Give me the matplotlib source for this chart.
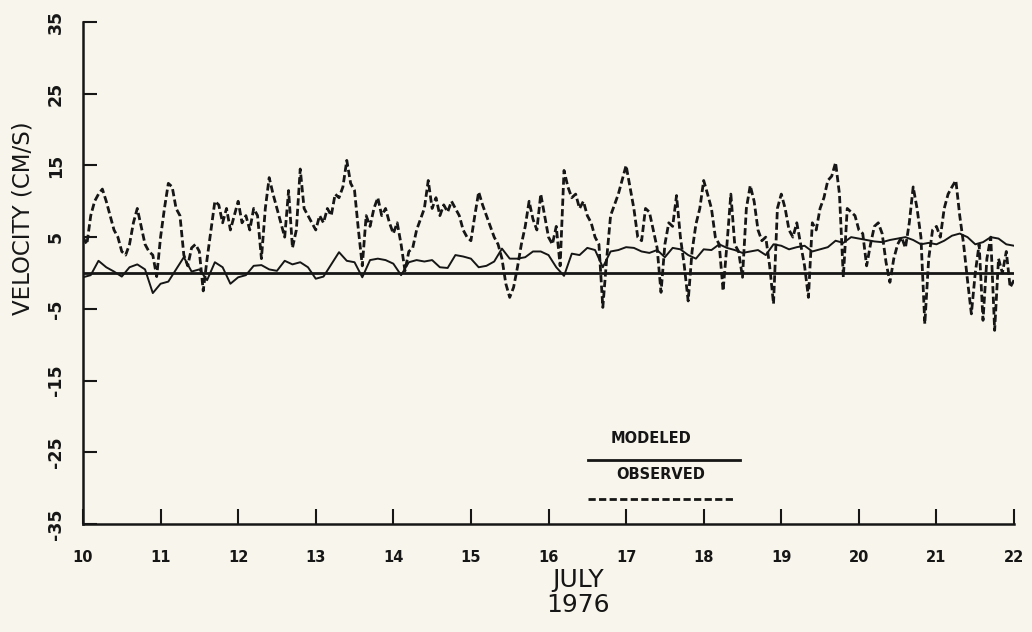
import numpy as np
import matplotlib
matplotlib.use("Agg")
import matplotlib.pyplot as plt

# observed current, one value every 0.05 day (10.00 .. 22.00)
obs_days = np.round(np.arange(10.0, 22.0001, 0.05), 2)
observed = [
    5, 4, 8, 10, 11, 11.7, 10, 8, 6, 5,
    3, 2.5, 4, 7, 9, 6.5, 4, 3, 2.5, -0.5,
    5, 9, 12.5, 12, 9, 8, 2.5, 1, 3.5, 4,
    3, -2.5, 2, 6, 10, 9.5, 7, 9, 6, 8,
    10, 7, 8, 6, 9, 8, 2, 9, 13.3, 11,
    9, 7, 5, 11.5, 3.5, 6, 14.5, 9, 8, 7,
    6, 8, 7, 9, 8, 11, 10.5, 12, 15.7, 12.5,
    11.5, 6, 1, 8, 6.5, 9, 10.5, 8, 9, 7,
    5.5, 7, 4, 0.3, 3, 3.5, 6, 7.5, 9, 12.9,
    9, 10.5, 8, 9.5, 8.5, 10, 9, 8, 6, 5,
    4.5, 8, 11.3, 9.5, 8, 6.5, 5, 4, 2, -1.5,
    -3.4, -2, 0.8, 4, 6.5, 10, 7.5, 6, 11, 8,
    5, 4, 6.5, 1, 14.3, 12, 10.5, 11, 9, 10,
    8, 7, 5, 4, -4.8, 2, 8, 9.5, 11, 13,
    15, 12, 9, 5, 4.5, 9, 8.5, 6, 3.5, -2.7,
    4, 7, 6.5, 10.8, 5, 1, -3.9, 3, 6.8, 9,
    12.9, 11, 9, 5, 4, -2.5, 4, 11, 4, 3,
    -0.6, 9, 12.2, 10, 6, 4.5, 5, 1, -4.3, 9,
    11, 9, 6, 5, 7, 4, 1, -3.4, 7, 6,
    9, 10.5, 12.9, 13.5, 15.4, 11, -0.6, 9, 8.5, 8,
    6, 5.5, 1, 4, 6.5, 7, 5.5, 1.5, -1.3, 2,
    4, 5, 3.5, 7, 12, 9, 5, -7.1, 2, 6,
    6.5, 5, 9, 11, 12, 12.9, 8, 4, -1, -5.7,
    0, 4, -6.6, 2, 5, -8, 2, 0, 3, -2,
    -1,
]

# modeled current, one value every 0.1 day (10.0 .. 22.0)
mod_days = np.round(np.arange(10.0, 22.0001, 0.1), 1)
modeled = [
    -0.6, -0.3, 1.7, 0.8, 0.2, -0.5, 0.8, 1.2, 0.5, -2.8,
    -1.5, -1.2, 0.5, 2.2, 0.2, 0.5, -1.0, 1.5, 0.8, -1.5,
    -0.6, -0.3, 1.0, 1.1, 0.5, 0.3, 1.7, 1.2, 1.5, 0.8,
    -0.8, -0.5, 1.2, 2.9, 1.7, 1.5, -0.6, 1.8, 2.0, 1.8,
    1.3, -0.3, 1.5, 1.8, 1.6, 1.8, 0.8, 0.7, 2.5, 2.3,
    2.0, 0.8, 1.0, 1.6, 3.4, 2.0, 2.0, 2.2, 3.0, 3.0,
    2.5, 0.8, -0.4, 2.7, 2.5, 3.5, 3.2, 0.8, 3.0, 3.2,
    3.6, 3.5, 3.0, 2.8, 3.2, 2.2, 3.5, 3.3, 2.5, 2.0,
    3.3, 3.2, 4.0, 3.5, 3.2, 2.8, 3.0, 3.2, 2.5, 4.0,
    3.8, 3.3, 3.6, 3.8, 3.0, 3.3, 3.6, 4.5, 4.2, 5.0,
    4.8, 4.6, 4.4, 4.3, 4.6, 4.8, 5.0, 4.6, 4.0, 4.2,
    4.0, 4.5, 5.2, 5.5, 5.0, 4.0, 4.3, 5.0, 4.8, 4.0,
    3.8,
]

x_ticks = list(range(10, 23))
y_ticks = [-35, -25, -15, -5, 5, 15, 25, 35]

ink = "#161616"
paper = "#f8f6ec"
font = ["DejaVu Sans"]

fig = plt.figure(figsize=(10.32, 6.32), dpi=100, facecolor=paper)
ax = fig.add_axes([0.0804, 0.1709, 0.9022, 0.7943])
ax.set_facecolor(paper)

ax.plot(obs_days, observed, color=ink, lw=2.0, dashes=(2.6, 1.2))
ax.plot(mod_days, modeled, color=ink, lw=1.4)
ax.axhline(0, color=ink, lw=2.0)

ax.set_xlim(10, 22)
ax.set_ylim(-35, 35)
for s in ["top", "right"]:
    ax.spines[s].set_visible(False)
for s in ["left", "bottom"]:
    ax.spines[s].set_linewidth(1.8)
    ax.spines[s].set_color(ink)

ax.set_xticks(x_ticks)
ax.set_xticklabels([str(t) for t in x_ticks], family=font,
                   fontsize=10.5, fontweight="bold", color=ink)
ax.set_yticks(y_ticks)
ax.set_yticklabels([str(t) for t in y_ticks], family=font,
                   fontsize=12.5, fontweight="bold", color=ink,
                   rotation=90, va="center")
ax.tick_params(axis="x", direction="in", length=11, width=1.5,
               pad=19, colors=ink)
ax.tick_params(axis="y", direction="in", length=10, width=1.5,
               pad=13, colors=ink)

ax.set_ylabel("VELOCITY (CM/S)", family=font, fontsize=16.5, color=ink)
ax.yaxis.set_label_coords(-0.052, 0.61)
ax.set_xlabel("JULY\n1976", family=font, fontsize=18, color=ink,
              linespacing=1.05)
ax.xaxis.set_label_coords(0.532, -0.088)

# legend: label above its line sample
ax.text(0.610, 0.171, "MODELED", transform=ax.transAxes, ha="center",
        va="center", family=font, fontsize=10.5, fontweight="bold", color=ink)
ax.plot([0.542, 0.706], [0.1275, 0.1275], transform=ax.transAxes,
        color=ink, lw=2.0)
ax.text(0.621, 0.0976, "OBSERVED", transform=ax.transAxes, ha="center",
        va="center", family=font, fontsize=10.5, fontweight="bold", color=ink)
ax.plot([0.542, 0.700], [0.0498, 0.0498], transform=ax.transAxes,
        color=ink, lw=2.0, dashes=(2.6, 1.2))

fig.savefig("out.png", dpi=100, facecolor=paper)
